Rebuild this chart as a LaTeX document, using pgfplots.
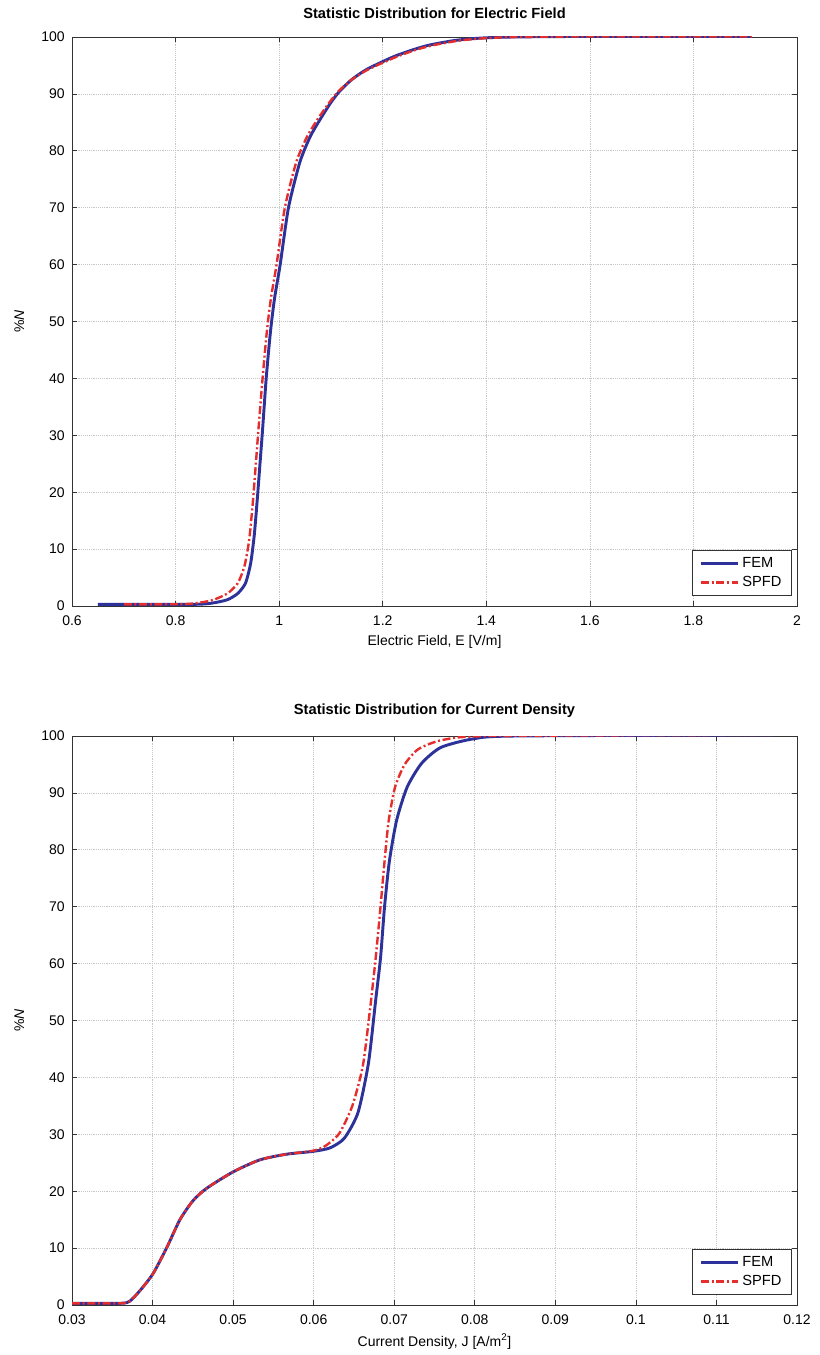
\documentclass[border=0pt]{standalone}
\usepackage{fontspec}
\setmainfont{Liberation Sans}
\usepackage{pgfplots}
\pgfplotsset{compat=1.18}
\definecolor{femblue}{RGB}{45,50,155}
\definecolor{spfdred}{RGB}{228,45,45}
\pgfplotsset{
  mystyle/.style={
    scale only axis,
    width=543.75pt, height=426.75pt,
    anchor=north west,
    font=\fontsize{10.5}{12.6}\selectfont,
    /pgf/number format/assume math mode=true,
    axis line style={line width=0.7pt, black!80},
    tick align=inside,
    tick style={black!80, line width=0.5pt},
    major tick length=4pt,
    xtick pos=both, ytick pos=both,
    grid=major,
    major grid style={densely dotted, gray!45, line width=0.5pt},
    ymin=0, ymax=100,
    ytick={0,10,...,100},
    scaled x ticks=false,
    xticklabel style={yshift=-4pt},
    yticklabel style={xshift=-2pt},
    title style={font=\fontsize{11}{13}\selectfont\bfseries, yshift=4pt},
    ylabel={\%\textit{N}},
    ylabel shift=6pt,
    legend cell align=left,
    legend style={at={(0.992,0.018)}, anchor=south east, draw=black!80, line width=0.5pt,
      font=\fontsize{11}{13}\selectfont, row sep=1.5pt, inner xsep=5pt, inner ysep=3pt},
    legend image code/.code={\draw[#1] (0pt,0pt) -- (28pt,0pt);},
  },
  fem/.style={femblue, line width=2.2pt, smooth, tension=0.4},
  spfd/.style={spfdred, line width=1.8pt, smooth, tension=0.4, dash pattern=on 6pt off 2pt on 1.5pt off 2pt},
}
\begin{document}
\begin{tikzpicture}
\path[use as bounding box] (0pt,0pt) rectangle (615pt,-1016.25pt);
\begin{axis}[mystyle, at={(54pt,-27.75pt)},
  title={Statistic Distribution for Electric Field},
  xlabel={Electric Field, E [V/m]},
  xmin=0.6, xmax=2,
  xtick={0.6,0.8,1,1.2,1.4,1.6,1.8,2},
  xticklabels={0.6,0.8,1,1.2,1.4,1.6,1.8,2},
]
\addplot[fem] coordinates {
(0.65,0.3) (0.75,0.3) (0.84,0.3) (0.87,0.5) (0.90,1.1) (0.92,2.2)
(0.935,4.0) (0.945,7.5) (0.952,12.5) (0.958,19) (0.963,25)
(0.968,31) (0.975,40) (0.983,48) (0.991,54) (1.002,60) (1.018,70) (1.040,78)
(1.060,82.5) (1.079,85.5) (1.100,88.5) (1.117,90.5) (1.140,92.5) (1.169,94.3)
(1.220,96.5) (1.260,97.8) (1.291,98.6) (1.340,99.4) (1.388,99.8) (1.45,100)
(1.6,100.1) (1.913,100.1)
};
\addlegendentry{FEM}
\addplot[spfd] coordinates {
(0.70,0.3) (0.78,0.3) (0.83,0.4) (0.87,1.0) (0.90,2.2) (0.92,4.0) (0.933,7)
(0.942,11.5) (0.949,18) (0.955,25) (0.960,31) (0.968,40) (0.976,48) (0.984,54)
(0.995,60) (1.011,70) (1.033,78) (1.054,82.5) (1.074,85.5) (1.097,88.5)
(1.115,90.5) (1.140,92.5) (1.172,94.3) (1.226,96.5) (1.266,97.8) (1.30,98.6)
(1.35,99.4) (1.40,99.8) (1.46,100) (1.6,100.1) (1.913,100.1)
};
\addlegendentry{SPFD}
\end{axis}
\begin{axis}[mystyle, at={(54pt,-552pt)},
  title={Statistic Distribution for Current Density},
  xlabel={Current Density, J [A/m\textsuperscript{2}]},
  xmin=0.03, xmax=0.12,
  xtick={0.03,0.04,0.05,0.06,0.07,0.08,0.09,0.1,0.11,0.12},
  xticklabels={0.03,0.04,0.05,0.06,0.07,0.08,0.09,0.1,0.11,0.12},
]
\addplot[fem] coordinates {
(0.030,0.3) (0.036,0.3) (0.0372,0.7) (0.0386,2.8) (0.0401,5.6) (0.0418,10.2)
(0.0434,15.0) (0.0450,18.3) (0.0467,20.5) (0.0500,23.4) (0.0533,25.5)
(0.0566,26.5) (0.0599,27.0) (0.0620,27.6) (0.0638,29.3) (0.0655,33.8)
(0.0668,42.5) (0.0677,53.6) (0.0683,61) (0.0688,70) (0.0694,78) (0.0703,85.2)
(0.0716,91) (0.0734,95.2) (0.0758,98) (0.0798,99.5) (0.085,100) (0.1172,100.2)
};
\addlegendentry{FEM}
\addplot[spfd] coordinates {
(0.030,0.3) (0.036,0.3) (0.0372,0.7) (0.0386,2.8) (0.0401,5.6) (0.0418,10.2)
(0.0434,15.0) (0.0450,18.3) (0.0467,20.5) (0.0500,23.4) (0.0533,25.5)
(0.0566,26.5) (0.0599,27.1) (0.0615,28.0) (0.0632,30.2)
(0.0648,35) (0.0661,42) (0.0670,52) (0.0677,61) (0.0683,70) (0.0688,78)
(0.0693,85) (0.0701,91) (0.0713,95) (0.0730,97.7) (0.0760,99.3) (0.082,100)
(0.1172,100.2)
};
\addlegendentry{SPFD}
\end{axis}
\end{tikzpicture}
\end{document}
